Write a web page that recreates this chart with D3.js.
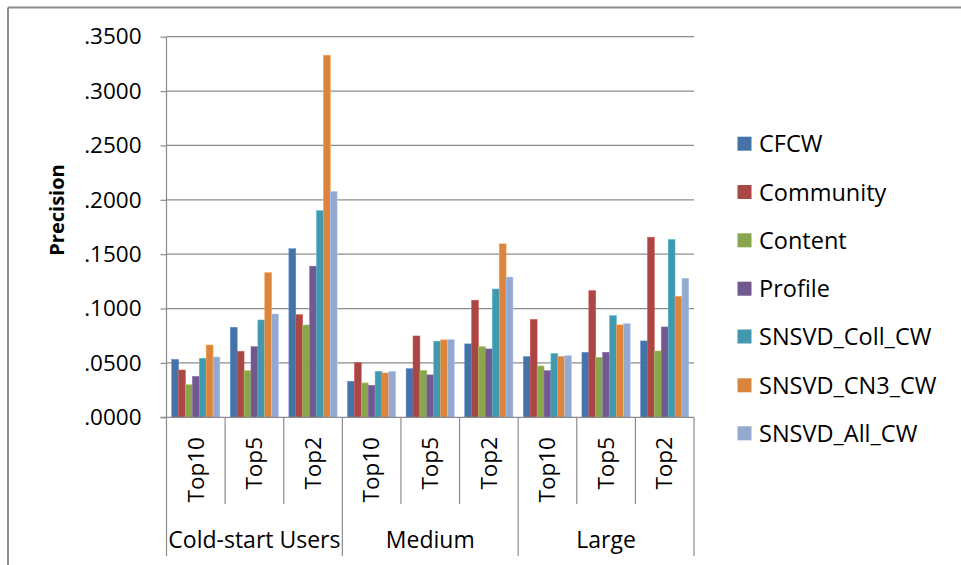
<!DOCTYPE html>
<html>
<head>
<meta charset="utf-8">
<script src="https://cdn.jsdelivr.net/npm/d3@7"></script>
<style>
  html, body { margin: 0; padding: 0; background: #fff; }
  svg { display: block; }
  text { font-family: "Open Sans", sans-serif; fill: #000; }
</style>
</head>
<body>
<svg id="chart" width="961" height="565"></svg>
<script>
// ---- data ----
const groups = ["Cold-start Users", "Medium", "Large"];
const tops = ["Top10", "Top5", "Top2"];
const seriesNames = ["CFCW", "Community", "Content", "Profile", "SNSVD_Coll_CW", "SNSVD_CN3_CW", "SNSVD_All_CW"];
// values per category (group × top), order: Cold Top10, Top5, Top2, Medium Top10.., Large Top10..
const CFCW         = [0.0533, 0.0828, 0.1550, 0.0331, 0.0448, 0.0675, 0.0558, 0.0598, 0.0702];
const Community    = [0.0435, 0.0607, 0.0944, 0.0503, 0.0748, 0.1077, 0.0900, 0.1165, 0.1656];
const Content      = [0.0300, 0.0429, 0.0849, 0.0316, 0.0432, 0.0650, 0.0472, 0.0552, 0.0610];
const Profile      = [0.0377, 0.0650, 0.1390, 0.0294, 0.0390, 0.0629, 0.0429, 0.0598, 0.0831];
const SNSVD_Coll   = [0.0543, 0.0895, 0.1900, 0.0423, 0.0700, 0.1180, 0.0586, 0.0935, 0.1635];
const SNSVD_CN3    = [0.0665, 0.1330, 0.3330, 0.0408, 0.0712, 0.1595, 0.0561, 0.0850, 0.1113];
const SNSVD_All    = [0.0555, 0.0950, 0.2078, 0.0423, 0.0715, 0.1290, 0.0567, 0.0862, 0.1279];
const seriesValues = [CFCW, Community, Content, Profile, SNSVD_Coll, SNSVD_CN3, SNSVD_All];
const yTicks = [0, 0.05, 0.10, 0.15, 0.20, 0.25, 0.30, 0.35];
const colors = ["#4572A7", "#AA4643", "#89A54E", "#71588F", "#4198AF", "#DB843D", "#93A9CF"];

// ---- layout ----
const svg = d3.select("#chart");
const plotLeft = 166.5, plotRight = 694, plotTop = 36.7, plotBottom = 417.3;
const lineColor = "#8c8c8c";

// outer frame (top + left)
svg.append("line").attr("x1", 8).attr("x2", 961).attr("y1", 7.5).attr("y2", 7.5)
  .attr("stroke", lineColor).attr("stroke-width", 2);
svg.append("line").attr("x1", 8).attr("x2", 8).attr("y1", 7.5).attr("y2", 565)
  .attr("stroke", lineColor).attr("stroke-width", 2);

const categories = [];
groups.forEach(g => tops.forEach(t => categories.push(g + "|" + t)));

const x0 = d3.scaleBand().domain(categories).range([plotLeft, plotRight]).padding(0);
const x1 = d3.scaleBand().domain(seriesNames).range([0, x0.bandwidth()])
  .paddingInner(0).paddingOuter(0.75);
const y = d3.scaleLinear().domain([0, 0.35]).range([plotBottom, plotTop]);

// gridlines
svg.append("g").selectAll("line").data(yTicks.filter(d => d > 0)).join("line")
  .attr("x1", plotLeft).attr("x2", plotRight)
  .attr("y1", d => y(d)).attr("y2", d => y(d))
  .attr("stroke", lineColor).attr("stroke-width", 1.2);

// bars
const barG = svg.append("g");
seriesNames.forEach((s, si) => {
  barG.append("g").selectAll("rect").data(seriesValues[si]).join("rect")
    .attr("x", (d, i) => x0(categories[i]) + x1(s))
    .attr("y", d => y(d))
    .attr("width", x1.bandwidth())
    .attr("height", d => plotBottom - y(d))
    .attr("fill", colors[si])
    .attr("stroke", d3.color(colors[si]).brighter(0.6))
    .attr("stroke-width", 0.5);
});

// y axis
const yAxis = d3.axisLeft(y).tickValues(yTicks).tickSize(6).tickPadding(19)
  .tickFormat(d => d3.format(".4f")(d).replace(/^0/, ""));
const yg = svg.append("g").attr("transform", `translate(${plotLeft},0)`).call(yAxis);
yg.select(".domain").remove();
yg.selectAll(".tick line").attr("stroke", lineColor).attr("stroke-width", 1.2);
yg.selectAll(".tick text").attr("font-size", 22.5).attr("font-family", "Open Sans").attr("fill", "#000");
// y axis line extended down to bottom of category labels
svg.append("line").attr("x1", plotLeft).attr("x2", plotLeft).attr("y1", plotTop).attr("y2", 556)
  .attr("stroke", lineColor).attr("stroke-width", 1.2);
// x axis line
svg.append("line").attr("x1", plotLeft - 6).attr("x2", plotRight).attr("y1", plotBottom).attr("y2", plotBottom)
  .attr("stroke", lineColor).attr("stroke-width", 1.2);

// category separators
categories.forEach((c, i) => {
  if (i === 0) return;
  const isGroup = i % tops.length === 0;
  svg.append("line").attr("x1", x0(c)).attr("x2", x0(c))
    .attr("y1", plotBottom).attr("y2", isGroup ? 556 : 504)
    .attr("stroke", lineColor).attr("stroke-width", 1.2);
});
svg.append("line").attr("x1", plotRight).attr("x2", plotRight).attr("y1", plotBottom).attr("y2", 556)
  .attr("stroke", lineColor).attr("stroke-width", 1.2);

// top labels (rotated)
categories.forEach((c, i) => {
  const cx = x0(c) + x0.bandwidth() / 2;
  svg.append("text")
    .attr("transform", `translate(${cx + 7.8},437) rotate(-90)`)
    .attr("text-anchor", "end")
    .attr("font-size", 22.5)
    .text(tops[i % tops.length]);
});
// group labels
groups.forEach((g, gi) => {
  const x0c = x0(categories[gi * 3]);
  const x1c = x0(categories[gi * 3 + 2]) + x0.bandwidth();
  svg.append("text").attr("x", (x0c + x1c) / 2).attr("y", 548)
    .attr("text-anchor", "middle").attr("font-size", 23).text(g);
});

// y title
svg.append("text").attr("transform", "translate(64,210) rotate(-90)")
  .attr("text-anchor", "middle").attr("font-size", 20).attr("font-weight", "bold")
  .text("Precision");

// legend
const legendY = [143.7, 192, 240.3, 288.7, 336.5, 385.3, 433.3];
seriesNames.forEach((s, i) => {
  svg.append("rect").attr("x", 737.5).attr("y", legendY[i] - 7).attr("width", 14).attr("height", 14)
    .attr("fill", colors[i]);
  svg.append("text").attr("x", 759).attr("y", legendY[i] + 8.5).attr("font-size", 23.5).text(s);
});
</script>
</body>
</html>
